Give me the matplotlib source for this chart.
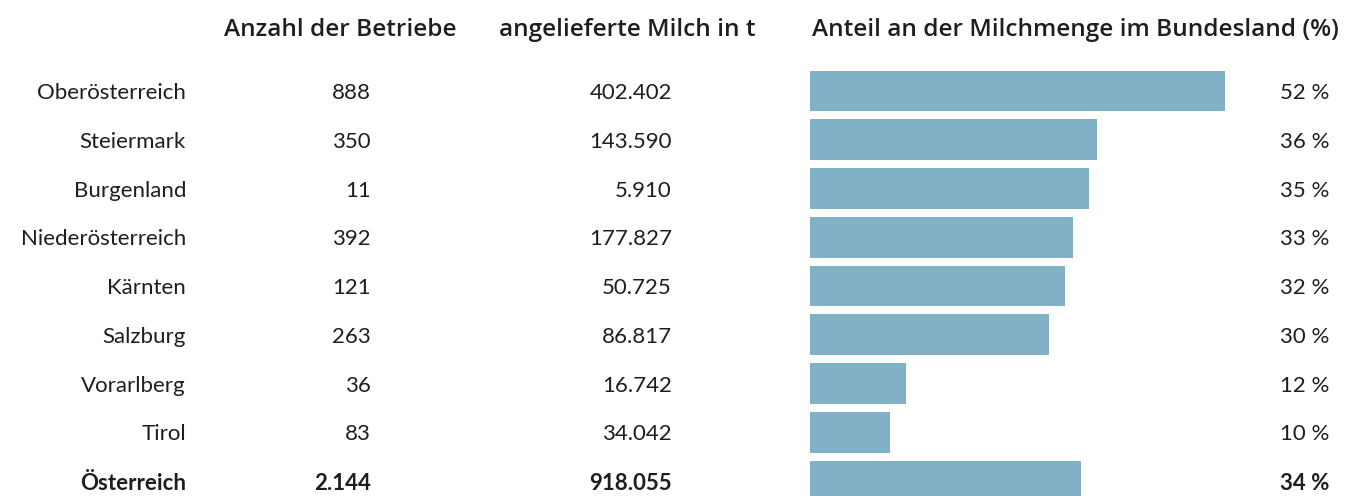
import matplotlib
matplotlib.use("Agg")
import matplotlib.pyplot as plt
import matplotlib.transforms as mtransforms

plt.rcParams['font.family'] = ['Lato', 'DejaVu Sans']

# Daten
bundeslaender = ['Oberösterreich', 'Steiermark', 'Burgenland', 'Niederösterreich',
                 'Kärnten', 'Salzburg', 'Vorarlberg', 'Tirol', 'Österreich']
betriebe = ['888', '350', '11', '392', '121', '263', '36', '83', '2.144']
milch_t = ['402.402', '143.590', '5.910', '177.827', '50.725', '86.817',
           '16.742', '34.042', '918.055']
anteil = [52, 36, 35, 33, 32, 30, 12, 10, 34]

headers = ['Anzahl der Betriebe', 'angelieferte Milch in t',
           'Anteil an der Milchmenge im Bundesland (%)']

W, H = 1351, 496
fig = plt.figure(figsize=(W / 100, H / 100), dpi=100)

# Achse für die Balken (rechter Teil)
x0 = 810
ax = fig.add_axes([x0 / W, 0, (W - x0) / W, 1])
ax.set_xlim(0, (W - x0) / 7.98)
row_h = 48.75
y_first = 91
ax.set_ylim((H - y_first) / row_h, -y_first / row_h)
ax.axis('off')

rows = list(range(len(bundeslaender)))
ax.barh(rows, anteil, height=0.84, color='#82b0c7', edgecolor='none')

txt_color = '#1e1e1e'
trans = mtransforms.blended_transform_factory(fig.transFigure, ax.transData)
fs = 16
dy = 0.045  # Text minimal nach unten

for i, name in enumerate(bundeslaender):
    bold = (i == len(bundeslaender) - 1)
    w = 'bold' if bold else 'normal'
    y = i + dy
    ax.text(186 / W, y, name, transform=trans, ha='right', va='center',
            fontsize=fs, fontweight=w, color=txt_color)
    ax.text(371 / W, y, betriebe[i], transform=trans, ha='right', va='center',
            fontsize=fs, fontweight=w, color=txt_color)
    ax.text(672 / W, y, milch_t[i], transform=trans, ha='right', va='center',
            fontsize=fs, fontweight=w, color=txt_color)
    ax.text(1329 / W, y, f'{anteil[i]} %', transform=trans, ha='right', va='center',
            fontsize=fs, fontweight=w, color=txt_color)

# Spaltenüberschriften
y_head = (30 - y_first) / row_h
hfont = dict(fontsize=17.6, fontweight='semibold', color=txt_color,
             family=['Open Sans', 'DejaVu Sans'])
ax.text(340 / W, y_head, headers[0], transform=trans, ha='center', va='center', **hfont)
ax.text(627 / W, y_head, headers[1], transform=trans, ha='center', va='center', **hfont)
ax.text(812 / W, y_head, headers[2], transform=trans, ha='left', va='center', **hfont)

fig.savefig('out.png', dpi=100, facecolor='white')
